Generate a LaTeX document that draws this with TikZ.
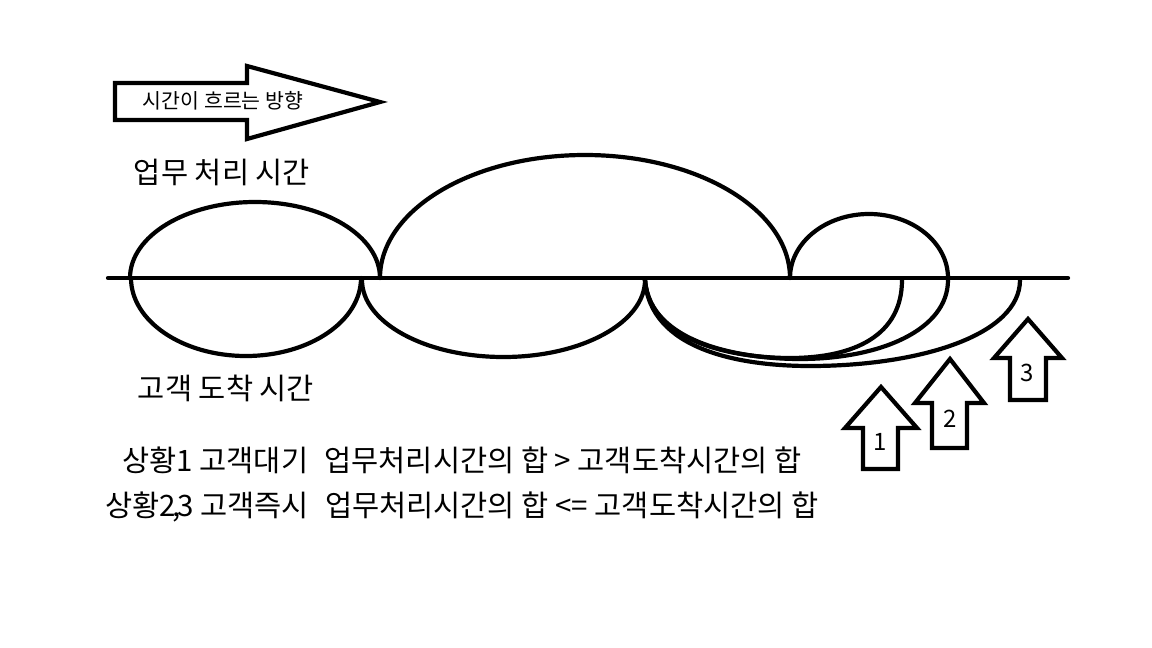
\documentclass[tikz,border=0pt]{standalone}
\usepackage{fontspec}
\newfontfamily\kr{Noto Sans CJK KR}
\begin{document}
\begin{tikzpicture}[x=1pt,y=-1pt]
\tikzset{
  ink/.style={line width=4.2pt, line cap=round, line join=round, draw=black},
  outline/.style={line width=4.2pt, line join=miter, draw=black},
  lbl/.style={font=\kr\fontsize{29.5}{34}\selectfont, inner sep=0pt},
  sit/.style={font=\kr\fontsize{29.5}{34}\selectfont, inner sep=0pt},
  small/.style={font=\kr\fontsize{20.5}{24}\selectfont, inner sep=0pt},
  num/.style={font=\kr\fontsize{24}{28}\selectfont, inner sep=0pt},
}
\useasboundingbox (0,0) rectangle (1152,648);
\fill[white] (0,0) rectangle (1152,648);

% time direction arrow
\draw[outline] (115,83) -- (247,83) -- (247,66) -- (380,102) -- (247,139) -- (247,120) -- (115,120) -- cycle;
\node[small] (dir) at (223,101) {시간이 흐르는 방향};

\node[lbl] (work) at (222,172) {업무 처리 시간};
\node[lbl] (arr) at (226,388) {고객 도착 시간};

% timeline
\coordinate (L0) at (108,278);
\coordinate (L1) at (1068,278);
\draw[ink] (L0) -- (L1);

% upper (service) ellipses
\draw[ink] (130,278) arc[start angle=180, end angle=360, x radius=125, y radius=76];
\draw[ink] (380,278) arc[start angle=180, end angle=360, x radius=205, y radius=123];
\draw[ink] (790,278) arc[start angle=180, end angle=360, x radius=79, y radius=64];

% lower (arrival) ellipses
\draw[ink] (131,278) arc[start angle=180, end angle=0, x radius=115, y radius=78];
\draw[ink] (362,280) arc[start angle=180, end angle=0, x radius=141.5, y radius=77];
\draw[ink] (645,280) .. controls (650,345) and (740,358) .. (790,358) .. controls (855,358) and (902,335) .. (902,280);
\draw[ink] (645,280) .. controls (650,345) and (745,359) .. (800,359) .. controls (880,359) and (948,330) .. (948,280);
\draw[ink] (645,280) .. controls (650,350) and (740,366) .. (810,366) .. controls (920,366) and (1020,335) .. (1020,280);

% up arrows
\draw[outline] (881,387) -- (917,428) -- (898,428) -- (898,469) -- (863,469) -- (863,428) -- (845,428) -- cycle;
\draw[outline] (950,359) -- (984,403) -- (967,403) -- (967,448) -- (932,448) -- (932,403) -- (915,403) -- cycle;
\draw[outline] (1028,319) -- (1062,358) -- (1046,358) -- (1046,400) -- (1010,400) -- (1010,358) -- (994,358) -- cycle;
\node[num] (n1) at (880,442) {1};
\node[num] (n2) at (950,419) {2};
\node[num] (n3) at (1027,373) {3};

% situations
\node[sit] (s1) at (462,460) {상황1 고객대기\hspace{0.55em}업무처리시간의 합 > 고객도착시간의 합};
\node[sit] (s2) at (462,507) {상황2\kern-0.12em,\kern-0.12em3 고객즉시\hspace{0.55em}업무처리시간의 합 <= 고객도착시간의 합};
\end{tikzpicture}
\end{document}
